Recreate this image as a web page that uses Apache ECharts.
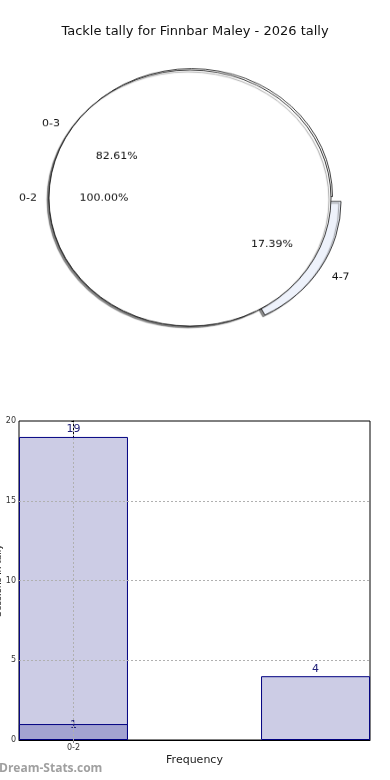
<!DOCTYPE html>
<html>
<head>
<meta charset="utf-8">
<script src="https://cdn.jsdelivr.net/npm/echarts@6/dist/echarts.min.js"></script>
<style>
html,body{margin:0;padding:0;background:#fff;}
#main{position:absolute;left:0;top:0;width:390px;height:780px;}
#pie{position:absolute;left:0;top:0;width:390px;height:400px;transform-origin:190px 198px;transform:scaleY(0.908);}
</style>
</head>
<body>
<div id="main"></div>
<div id="pie"></div>
<script>
const chartTitle = 'Tackle tally for Finnbar Maley - 2026 tally';
// pie data
const pieOuterNames = ['0-3', '4-7'];
const pieOuterValues = [19, 4];
const pieInnerNames = ['0-2'];
const pieInnerValues = [1];
// bar data
const barX = [0, 2];
const barValues = [19, 4];
const barX2 = [0];
const barValues2 = [1];
const xTickValues = [0];
const xTickLabels = ['0-2'];
const yTicks = [0, 5, 10, 15, 20];
const xAxisName = 'Frequency';
const yAxisName = 'Sessions in tally';
const watermark = 'Dream-Stats.com';

const FONT = 'DejaVu Sans';
const R = 141;
const CX = 190, CY = 198;

const main = echarts.init(document.getElementById('main'));
main.setOption({
  backgroundColor: '#fff',
  animation: false,
  title: {text: chartTitle, left: 'center', top: 20, textStyle: {fontFamily: FONT, fontSize: 13, fontWeight: 'normal', color: '#111'}},
  graphic: [{type: 'text', left: -1, top: 763, style: {text: watermark, font: 'bold 12px "Open Sans"', fill: '#a0a0a0'}}],
  grid: {left: 19, right: 20, top: 421, bottom: 40, show: true, borderColor: '#000', borderWidth: 1, containLabel: false, outerBoundsMode: 'none'},
  xAxis: {
    type: 'value', min: -0.45, max: 2.45,
    name: xAxisName, nameLocation: 'middle', nameGap: 15,
    nameTextStyle: {fontFamily: FONT, fontSize: 11, color: '#222'},
    axisLine: {show: true, lineStyle: {color: '#000'}},
    axisTick: {show: true, customValues: xTickValues, length: 3, lineStyle: {color: '#888'}},
    axisLabel: {customValues: xTickValues, fontFamily: FONT, fontSize: 8, color: '#333', margin: 4,
      formatter: v => { const i = xTickValues.indexOf(v); return i >= 0 ? xTickLabels[i] : ''; }},
    splitLine: {show: false}
  },
  yAxis: {
    type: 'value', min: 0, max: 20, interval: 5,
    name: yAxisName, nameLocation: 'middle', nameGap: 16, nameRotate: 90, nameMoveOverlap: false,
    nameTextStyle: {fontFamily: FONT, fontSize: 9, color: '#222'},
    axisLine: {show: true, lineStyle: {color: '#000'}},
    axisTick: {show: true, length: 2, lineStyle: {color: '#000'}},
    axisLabel: {fontFamily: FONT, fontSize: 8, color: '#333', margin: 3},
    splitLine: {show: false}
  },
  series: [
    {
      type: 'bar', z: 2, barWidth: 109, barGap: '-100%',
      data: barX.map((x, i) => [x, barValues[i]]),
      itemStyle: {color: '#ccccE5', borderColor: '#000080', borderWidth: 1},
      label: {show: true, position: 'top', distance: 2, fontFamily: FONT, fontSize: 11, color: '#22227a', formatter: p => p.value[1]},
      markLine: {
        silent: true, symbol: 'none', z: 5,
        lineStyle: {color: '#b0b0b0', type: [2, 2], width: 1},
        label: {show: false},
        data: yTicks.slice(1, -1).map(v => ({yAxis: v})).concat(xTickValues.map(v => ({xAxis: v})))
      }
    },
    {
      type: 'bar', z: 3, barWidth: 109, barGap: '-100%',
      data: barX2.map((x, i) => [x, barValues2[i]]),
      itemStyle: {color: '#a3a3d1', borderColor: '#000080', borderWidth: 1},
      label: {show: true, position: 'top', distance: -7, fontFamily: FONT, fontSize: 11, color: '#22227a', formatter: p => p.value[1]}
    }
  ]
});

const pie = echarts.init(document.getElementById('pie'));
const pct = p => p.percent.toFixed(2) + '%';
const lblBase = {show: true, position: 'inside', fontFamily: FONT, fontSize: 11, color: '#111'};
const outerData = pieOuterNames.map((n, i) => ({name: n, value: pieOuterValues[i], selected: i === 1}));
const innerData = pieInnerNames.map((n, i) => ({name: n, value: pieInnerValues[i]}));
const transparent = {color: 'rgba(0,0,0,0)', borderWidth: 0};
pie.setOption({
  animation: false,
  series: [
    {
      type: 'pie', z: 1, center: [CX + 1.5, CY - 1.5], radius: R, startAngle: 0, clockwise: false,
      selectedMode: 'multiple', selectedOffset: 10, silent: true,
      data: outerData,
      color: ['#ffffff', '#eef2fb'],
      itemStyle: {borderColor: '#111', borderWidth: 0.8, shadowColor: 'rgba(0,0,0,0.45)', shadowOffsetX: -2, shadowOffsetY: 2, shadowBlur: 1},
      label: {show: false}, labelLine: {show: false}
    },
    {
      type: 'pie', z: 2, center: [CX, CY], radius: R, startAngle: 0, clockwise: false, silent: true,
      data: innerData,
      color: ['#ffffff'],
      itemStyle: {borderColor: '#111', borderWidth: 0.8, shadowColor: 'rgba(0,0,0,0.45)', shadowOffsetX: -2, shadowOffsetY: 2, shadowBlur: 1},
      label: {show: false}, labelLine: {show: false}
    },
    // percentage labels at 0.6 R
    {
      type: 'pie', z: 3, center: [CX, CY], radius: [0, R * 1.2], startAngle: 0, clockwise: false,
      selectedMode: 'multiple', selectedOffset: 10, silent: true,
      data: outerData.map((d, i) => Object.assign({}, d, {label: {padding: i === 0 ? [0, 0, 0, 3] : [0, 3, 0, 0]}})),
      itemStyle: transparent, label: Object.assign({}, lblBase, {formatter: pct}), labelLine: {show: false}
    },
    {
      type: 'pie', z: 3, center: [CX, CY], radius: [0, R * 1.2], startAngle: 0, clockwise: false, silent: true,
      data: innerData.map(d => Object.assign({}, d, {label: {padding: [0, 0, 0, 3]}})),
      itemStyle: transparent, label: Object.assign({}, lblBase, {formatter: pct}), labelLine: {show: false}
    },
    // name labels at 1.1 R
    {
      type: 'pie', z: 3, center: [CX, CY], radius: [0, R * 2.2], startAngle: 0, clockwise: false,
      selectedMode: 'multiple', selectedOffset: 10, silent: true,
      data: outerData.map((d, i) => Object.assign({}, d, {label: {padding: i === 0 ? [0, 8, 0, 0] : [0, 0, 0, 14]}})),
      itemStyle: transparent, label: Object.assign({}, lblBase, {formatter: '{b}'}), labelLine: {show: false}
    },
    {
      type: 'pie', z: 3, center: [CX, CY], radius: [0, R * 2.2], startAngle: 0, clockwise: false, silent: true,
      data: innerData.map(d => Object.assign({}, d, {label: {padding: [0, 8, 0, 0]}})),
      itemStyle: transparent, label: Object.assign({}, lblBase, {formatter: '{b}'}), labelLine: {show: false}
    }
  ]
});
</script>
</body>
</html>
